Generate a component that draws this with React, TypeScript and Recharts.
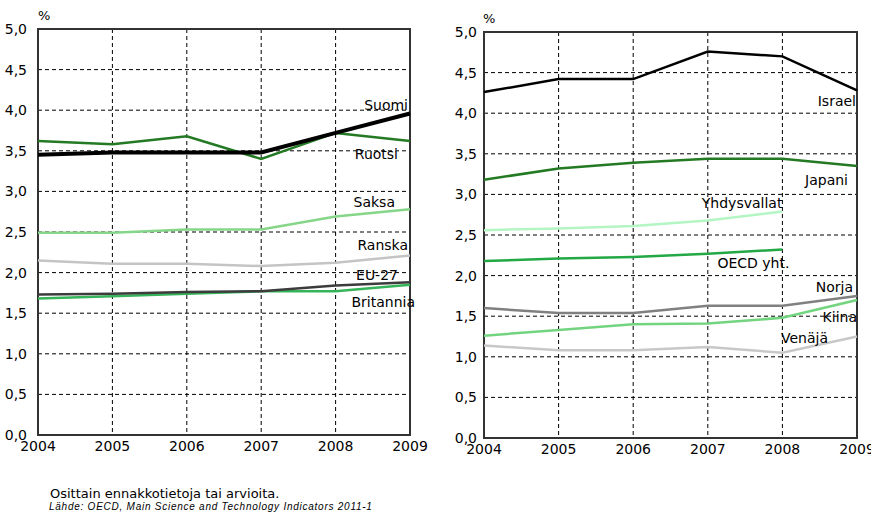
import { LineChart, Line, XAxis, YAxis, CartesianGrid, ReferenceArea } from 'recharts';

const years = [2004, 2005, 2006, 2007, 2008, 2009];
const yTicks = [0, 0.5, 1, 1.5, 2, 2.5, 3, 3.5, 4, 4.5, 5];

// left panel
const suomi = [3.45, 3.48, 3.48, 3.48, 3.72, 3.96];
const ruotsi = [3.62, 3.58, 3.68, 3.40, 3.72, 3.62];
const saksa = [2.49, 2.49, 2.53, 2.53, 2.69, 2.78];
const ranska = [2.15, 2.11, 2.11, 2.08, 2.12, 2.21];
const eu27 = [1.73, 1.74, 1.76, 1.77, 1.84, 1.88];
const britannia = [1.68, 1.71, 1.74, 1.77, 1.77, 1.85];

// right panel
const israel = [4.26, 4.42, 4.42, 4.76, 4.70, 4.28];
const japani = [3.18, 3.32, 3.39, 3.44, 3.44, 3.35];
const yhdysvallat = [2.56, 2.58, 2.61, 2.68, 2.79, null];
const oecd = [2.18, 2.21, 2.23, 2.27, 2.32, null];
const norja = [1.60, 1.54, 1.54, 1.63, 1.63, 1.75];
const kiina = [1.26, 1.33, 1.40, 1.41, 1.48, 1.70];
const venaja = [1.14, 1.08, 1.08, 1.12, 1.05, 1.25];

const leftData = years.map((year, i) => ({
  year,
  suomi: suomi[i],
  ruotsi: ruotsi[i],
  saksa: saksa[i],
  ranska: ranska[i],
  eu27: eu27[i],
  britannia: britannia[i],
}));

const rightData = years.map((year, i) => ({
  year,
  israel: israel[i],
  japani: japani[i],
  yhdysvallat: yhdysvallat[i],
  oecd: oecd[i],
  norja: norja[i],
  kiina: kiina[i],
  venaja: venaja[i],
}));

const FONT = '"DejaVu Sans", Verdana, sans-serif';

type SeriesDef = {
  key: string;
  name: string;
  color: string;
  width: number;
  last: number;
  dx: number;
  dy: number;
  anchor?: 'start' | 'end';
};

const leftSeries: SeriesDef[] = [
  { key: 'ranska', name: 'Ranska', color: '#c4c4c4', width: 2.5, last: 5, dx: -2, dy: -10.5 },
  { key: 'saksa', name: 'Saksa', color: '#86d68a', width: 2.5, last: 5, dx: -15, dy: -7 },
  { key: 'britannia', name: 'Britannia', color: '#35b45a', width: 2.5, last: 5, dx: 5, dy: 17 },
  { key: 'eu27', name: 'EU-27', color: '#3c3c3c', width: 2.5, last: 5, dx: -12, dy: -7 },
  { key: 'ruotsi', name: 'Ruotsi', color: '#237a23', width: 2.5, last: 5, dx: -12, dy: 13 },
  { key: 'suomi', name: 'Suomi', color: '#000000', width: 4, last: 5, dx: -2, dy: -8 },
];

const rightSeries: SeriesDef[] = [
  { key: 'venaja', name: 'Venäjä', color: '#c8c8c8', width: 2.5, last: 5, dx: -29, dy: 1.5 },
  { key: 'norja', name: 'Norja', color: '#808080', width: 2.5, last: 5, dx: -4, dy: -9 },
  { key: 'kiina', name: 'Kiina', color: '#72d47e', width: 2.5, last: 5, dx: 0, dy: 17 },
  { key: 'oecd', name: 'OECD yht.', color: '#22a845', width: 2.5, last: 4, dx: 7, dy: 13.5 },
  { key: 'yhdysvallat', name: 'Yhdysvallat', color: '#b4f5c4', width: 2.5, last: 4, dx: 0, dy: -8.5 },
  { key: 'japani', name: 'Japani', color: '#237a23', width: 2.5, last: 5, dx: -9, dy: 14 },
  { key: 'israel', name: 'Israel', color: '#000000', width: 2.5, last: 5, dx: -1, dy: 10.5 },
];

const makeLabel = (s: SeriesDef) => (props: any) => {
  if (props.index !== s.last) return null;
  return (
    <text
      key={s.key}
      x={props.x + s.dx}
      y={props.y + s.dy + 5}
      textAnchor={s.anchor ?? 'end'}
      fontFamily={FONT}
      fontSize={14}
      fill="#000"
    >
      {s.name}
    </text>
  );
};

const fmt = (v: number) => v.toFixed(1).replace('.', ',');

function Panel({
  data,
  series,
  width,
  margin,
  yWidth,
  tickMargin,
}: {
  data: any[];
  series: SeriesDef[];
  width: number;
  margin: { top: number; right: number; bottom: number; left: number };
  yWidth: number;
  tickMargin: number;
}) {
  return (
    <LineChart width={width} height={470} data={data} margin={margin}>
      <CartesianGrid stroke="#000" strokeDasharray="4 3" strokeWidth={1} />
      <XAxis
        dataKey="year"
        type="number"
        domain={[2004, 2009]}
        ticks={years}
        tickLine={false}
        axisLine={false}
        tickSize={0}
        tickMargin={6}
        height={20}
        interval={0}
        tick={{ fontFamily: FONT, fontSize: 14, fill: '#000' }}
      />
      <YAxis
        type="number"
        domain={[0, 5]}
        ticks={yTicks}
        tickFormatter={fmt}
        tickLine={false}
        axisLine={false}
        tickMargin={tickMargin}
        width={yWidth}
        interval={0}
        tick={{ fontFamily: FONT, fontSize: 14, fill: '#000' }}
      />
      <ReferenceArea x1={2004} x2={2009} y1={0} y2={5} fill="none" stroke="#333" strokeWidth={2} fillOpacity={0} />
      {series.map((s) => (
        <Line
          key={s.key}
          dataKey={s.key}
          type="linear"
          stroke={s.color}
          strokeWidth={s.width}
          dot={false}
          activeDot={false}
          isAnimationActive={false}
          label={makeLabel(s)}
        />
      ))}
    </LineChart>
  );
}

export default function App() {
  return (
    <div
      style={{
        position: 'absolute',
        left: 0,
        top: 0,
        width: 871,
        height: 517,
        background: '#fff',
        fontFamily: FONT,
        overflow: 'hidden',
      }}
    >
      <div style={{ position: 'absolute', left: 38, top: 8, fontSize: 13 }}>%</div>
      <div style={{ position: 'absolute', left: 483, top: 11, fontSize: 13 }}>%</div>
      <div style={{ position: 'absolute', left: 0, top: 0 }}>
        <Panel
          data={leftData}
          series={leftSeries}
          width={430}
          margin={{ top: 29, right: 20, bottom: 15, left: 0 }}
          yWidth={38}
          tickMargin={5}
        />
      </div>
      <div style={{ position: 'absolute', left: 440, top: 0 }}>
        <Panel
          data={rightData}
          series={rightSeries}
          width={431}
          margin={{ top: 32, right: 14, bottom: 12, left: 0 }}
          yWidth={44}
          tickMargin={1}
        />
      </div>
      <div style={{ position: 'absolute', left: 50, top: 486, fontSize: 13, color: '#000' }}>
        Osittain ennakkotietoja tai arvioita.
      </div>
      <div
        style={{
          position: 'absolute',
          left: 49,
          top: 501,
          fontSize: 10,
          fontStyle: 'italic',
          fontFamily: '"Liberation Sans", Arial, sans-serif',
          letterSpacing: 0.75,
          color: '#000',
        }}
      >
        Lähde: OECD, Main Science and Technology Indicators 2011-1
      </div>
    </div>
  );
}
